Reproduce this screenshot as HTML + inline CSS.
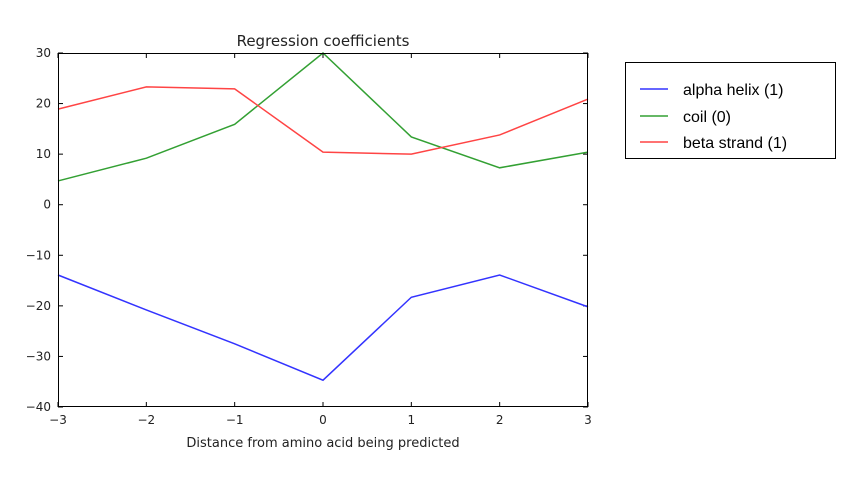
<!DOCTYPE html>
<html><head><meta charset="utf-8"><style>
body{margin:0;background:#fff;width:857px;height:473px;overflow:hidden}
text{font-family:"DejaVu Sans","Liberation Sans",sans-serif}
</style></head><body>
<svg id="chart" width="857" height="473" viewBox="0 0 857 473" xmlns="http://www.w3.org/2000/svg">
<text x="323" y="46" font-size="15" text-anchor="middle" fill="#222">Regression coefficients</text>
<text x="323" y="447" font-size="13" text-anchor="middle" fill="#222">Distance from amino acid being predicted</text>
<g id="plot"></g>
<g>
<rect x="625.5" y="62.5" width="210" height="96" fill="#fff" stroke="#000"/>
<g><line x1="640" y1="89" x2="668" y2="89" stroke="#3333ff" stroke-width="1.5"/><text x="683" y="95" font-size="16" style="font-family:'Liberation Sans',sans-serif" fill="#000">alpha helix (1)</text></g>
<g><line x1="640" y1="116" x2="668" y2="116" stroke="#33a033" stroke-width="1.5"/><text x="683" y="122" font-size="16" style="font-family:'Liberation Sans',sans-serif" fill="#000">coil (0)</text></g>
<g><line x1="640" y1="142" x2="668" y2="142" stroke="#ff4444" stroke-width="1.5"/><text x="683" y="148" font-size="16" style="font-family:'Liberation Sans',sans-serif" fill="#000">beta strand (1)</text></g>
</g>
</svg>
<script>
const categories=[-3,-2,-1,0,1,2,3];
const alphaHelix=[-13.9,-20.8,-27.5,-34.7,-18.3,-13.9,-20.2];
const coil=[4.7,9.2,15.9,30,13.4,7.3,10.4];
const betaStrand=[18.9,23.3,22.9,10.4,10,13.8,20.9];
const yTicks=[-40,-30,-20,-10,0,10,20,30];
const xTicks=[-3,-2,-1,0,1,2,3];
const L=58,R=588,T=53,B=407;
const xs=v=>L+(v+3)/6*(R-L);
const ys=v=>T+(30-v)/70*(B-T);
const NS="http://www.w3.org/2000/svg";
const g=document.getElementById('plot');
const fmt=v=>v<0?'\u2212'+(-v):String(v);
function mk(t,a){const e=document.createElementNS(NS,t);for(const k in a)e.setAttribute(k,a[k]);g.appendChild(e);return e;}
yTicks.forEach(v=>{const y=ys(v);
const t=mk('line',{x1:L,y1:y,x2:L+5,y2:y,stroke:'#000'});
const t2=mk('line',{x1:R,y1:y,x2:R-5,y2:y,stroke:'#000'});
const l=mk('text',{x:L-7,y:y+4,'font-size':12,'text-anchor':'end',fill:'#222'});l.textContent=fmt(v);});
xTicks.forEach(v=>{const x=xs(v);
const t=mk('line',{x1:x,y1:B,x2:x,y2:B-5,stroke:'#000'});
const t2=mk('line',{x1:x,y1:T,x2:x,y2:T+5,stroke:'#000'});
const l=mk('text',{x:x,y:B+17,'font-size':12,'text-anchor':'middle',fill:'#222'});l.textContent=fmt(v);});
[[alphaHelix,'#3333ff','alpha-helix-line'],[coil,'#33a033','coil-line'],[betaStrand,'#ff4444','beta-strand-line']].forEach(([d,c,n])=>{
const p=mk('polyline',{points:d.map((v,i)=>xs(categories[i])+','+ys(v)).join(' '),fill:'none',stroke:c,'stroke-width':1.5});

});
const f=mk('rect',{x:L+.5,y:T+.5,width:R-L-1,height:B-T-1,fill:'none',stroke:'#000'});


</script>
</body></html>
